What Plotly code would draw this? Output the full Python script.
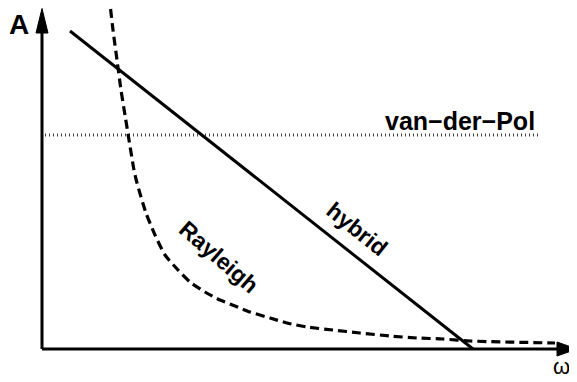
import plotly.graph_objects as go

# Data (abstract units: omega horizontal, A vertical)
hybrid_w = [0.56, 8.62]
hybrid_A = [6.36, 0.0]

vdp_w = [0.06, 9.96]
vdp_A = [4.28, 4.28]

rayleigh_w = [1.34, 1.42, 1.50, 1.58, 1.66, 1.74, 1.84, 1.90, 2.08, 2.26, 2.46, 2.72,
              2.96, 3.26, 3.56, 3.86, 4.16, 4.56, 4.90, 5.30, 5.82, 6.36, 6.96, 7.50,
              8.02, 8.56, 10.26]
rayleigh_A = [7.08, 6.38, 5.78, 5.18, 4.68, 4.18, 3.58, 3.32, 2.72, 2.28, 1.88, 1.58,
              1.34, 1.14, 0.98, 0.86, 0.74, 0.62, 0.52, 0.44, 0.38, 0.32, 0.26, 0.22,
              0.20, 0.16, 0.12]

# page has an 8px body margin; figure fills the rest of the window
XR = [-0.68, 10.70]
YR = [-0.66, 6.82]

fig = go.Figure()

# dotted van-der-Pol
fig.add_trace(go.Scatter(x=vdp_w, y=vdp_A, mode="lines",
                         line=dict(color="#444444", width=3, dash="1px,3px"),
                         hoverinfo="skip"))
# dashed Rayleigh
fig.add_trace(go.Scatter(x=rayleigh_w, y=rayleigh_A, mode="lines",
                         line=dict(color="black", width=3.2, dash="9px,5px", shape="spline", smoothing=0.6),
                         hoverinfo="skip"))
# solid hybrid
fig.add_trace(go.Scatter(x=hybrid_w, y=hybrid_A, mode="lines",
                         line=dict(color="black", width=3),
                         hoverinfo="skip"))

# axes with arrowheads
shapes = [
    dict(type="line", xref="x", yref="y", x0=0, y0=0, x1=0, y1=6.40,
         line=dict(color="black", width=3)),
    dict(type="line", xref="x", yref="y", x0=0, y0=0, x1=10.35, y1=0,
         line=dict(color="black", width=3)),
    dict(type="path", xref="x", yref="y",
         path="M -0.12,6.32 L 0.12,6.32 L 0,6.81 Z",
         fillcolor="black", line=dict(color="black", width=1)),
    dict(type="path", xref="x", yref="y",
         path="M 10.30,-0.14 L 10.30,0.14 L 10.70,0 Z",
         fillcolor="black", line=dict(color="black", width=1)),
]

font_b = "Liberation Sans"
annotations = [
    dict(x=-0.46, y=6.50, text="<b>A</b>", showarrow=False,
         font=dict(family=font_b, size=28, color="black")),
    dict(x=10.38, y=-0.34, text="ω", showarrow=False,
         font=dict(family=font_b, size=22, color="black")),
    dict(x=8.36, y=4.56, text="<b>van−der−Pol</b>", showarrow=False,
         font=dict(family=font_b, size=25, color="black")),
    dict(x=6.30, y=2.40, text="<b>hybrid</b>", showarrow=False, textangle=38.7,
         font=dict(family=font_b, size=23, color="black")),
    dict(x=3.54, y=1.84, text="<b>Rayleigh</b>", showarrow=False, textangle=41,
         font=dict(family=font_b, size=23, color="black")),
]

fig.update_layout(
    width=569, height=374,
    margin=dict(l=0, r=0, t=0, b=0),
    paper_bgcolor="white", plot_bgcolor="white",
    showlegend=False,
    xaxis=dict(range=XR, visible=False, fixedrange=True),
    yaxis=dict(range=YR, visible=False, fixedrange=True),
    shapes=shapes,
    annotations=annotations,
)

fig.write_html("out.html")
